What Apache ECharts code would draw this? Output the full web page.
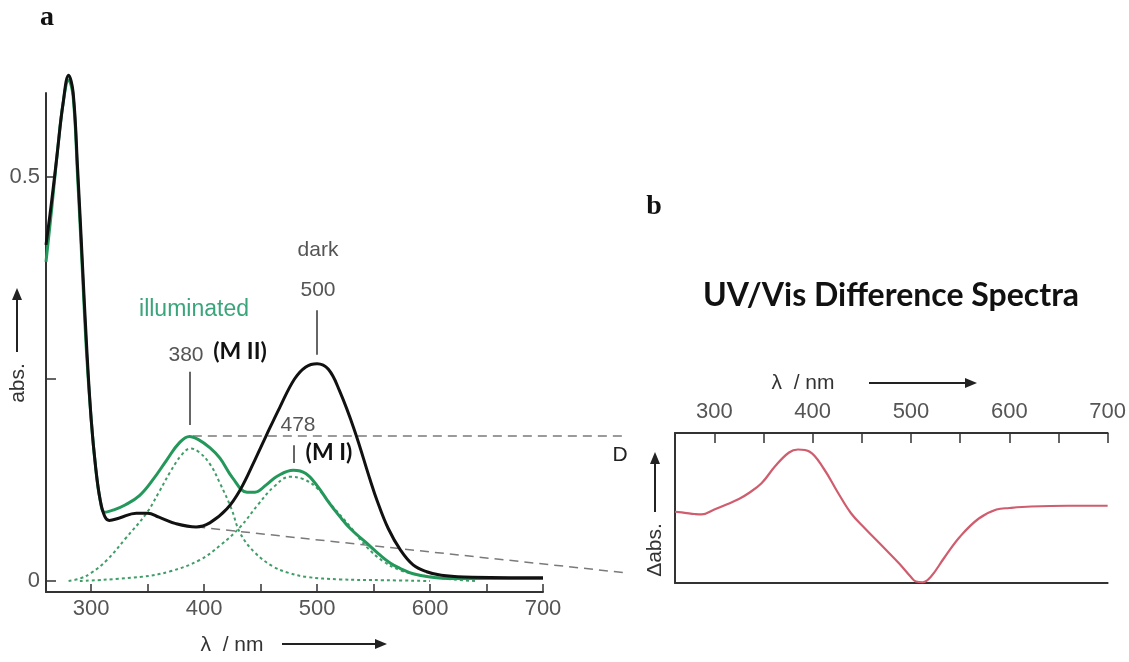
<!DOCTYPE html>
<html>
<head>
<meta charset="utf-8">
<script src="https://cdn.jsdelivr.net/npm/echarts@6/dist/echarts.min.js"></script>
<style>html,body{margin:0;padding:0;background:#fff;}#c{width:1129px;height:662px;}</style>
</head>
<body>
<div id="c"></div>
<script>
// ---------- data (wavelength nm, absorbance) ----------
const darkSpectrum = [
  [260,0.416],[265,0.47],[270,0.53],[275,0.59],[280,0.626],[284,0.605],[288,0.51],[292,0.40],
  [296,0.29],[300,0.20],[304,0.14],[308,0.10],[312,0.08],[316,0.075],[325,0.078],[340,0.084],
  [350,0.084],[360,0.079],[375,0.071],[393,0.067],[405,0.072],[420,0.089],[432,0.113],[445,0.15],
  [455,0.18],[467,0.215],[480,0.25],[490,0.265],[500,0.269],[510,0.262],[520,0.235],[533,0.187],
  [547,0.125],[553,0.100],[563,0.065],[574,0.038],[585,0.02],[597,0.0115],[610,0.007],[630,0.005],[700,0.004]
];
const illuminatedSpectrum = [
  [260,0.395],[265,0.46],[270,0.53],[275,0.59],[280,0.62],[284,0.60],[288,0.50],[292,0.39],
  [296,0.28],[300,0.20],[304,0.14],[308,0.10],[312,0.085],[320,0.088],[330,0.094],[343,0.106],
  [355,0.126],[367,0.150],[378,0.171],[387,0.179],[395,0.175],[405,0.165],[414,0.152],[425,0.128],
  [438,0.110],[445,0.110],[455,0.119],[465,0.130],[479,0.137],[490,0.133],[500,0.118],[510,0.098],
  [520,0.080],[530,0.064],[543,0.048],[555,0.033],[565,0.022],[573,0.016],[585,0.009],[600,0.005],
  [620,0.003],[700,0.003]
];
const componentMII = [
  [280,0.0],[290,0.003],[300,0.010],[314,0.026],[330,0.052],[349,0.084],[360,0.11],[370,0.135],
  [380,0.156],[388,0.164],[395,0.160],[405,0.145],[414,0.121],[424,0.09],[432,0.059],[445,0.035],
  [461,0.018],[475,0.010],[491,0.005],[520,0.002],[560,0.001],[600,0.0]
];
const componentMI = [
  [290,0.0],[343,0.005],[370,0.012],[396,0.026],[415,0.045],[432,0.067],[448,0.095],[462,0.117],
  [476,0.129],[488,0.126],[500,0.115],[514,0.092],[530,0.066],[544,0.042],[558,0.025],[573,0.0136],
  [588,0.008],[603,0.005],[620,0.002],[640,0.0]
];
const connectorTop = [[390,0.1795],[775,0.1795]];
const connectorBottom = [[393,0.067],[775,0.0099]];
const peakMarkers = [
  [[387,0.193],[387,0.259]],
  [[479,0.146],[479,0.168]],
  [[500,0.28],[500,0.335]]
];
const differenceSpectrum = [
  [260,0.475],[270,0.468],[280,0.46],[287,0.457],[300,0.49],[313,0.525],[325,0.56],[334,0.595],
  [348,0.665],[362,0.78],[376,0.87],[385,0.89],[397,0.875],[411,0.765],[425,0.61],[439,0.465],
  [453,0.365],[471,0.245],[488,0.13],[500,0.04],[505,0.01],[512,0.005],[520,0.04],[534,0.17],
  [550,0.31],[569,0.43],[587,0.49],[600,0.5],[622,0.51],[660,0.515],[700,0.515]
];
const xTickValues = [300,350,400,450,500,550,600,650,700];
const xLabelValues = [300,400,500,600,700];
const yTickValues = [0,0.25,0.5];
const yLabelValues = [0,0.5];

// ---------- helpers ----------
const GRAY = '#555';
function txt(x, y, s, opt) {
  opt = opt || {};
  return {
    type: 'text', x: x, y: y, rotation: opt.rotation || 0, z: 50,
    style: {
      text: s, fill: opt.color || GRAY, fontSize: opt.size || 21,
      fontFamily: opt.family || 'Liberation Sans, Arial, sans-serif',
      fontWeight: opt.weight || 'normal', align: 'center', verticalAlign: 'middle'
    }
  };
}
function arrow(x1, y1, x2, y2, color) {
  color = color || '#222';
  const ang = Math.atan2(y2 - y1, x2 - x1);
  const L = 12, W = 5;
  const bx = x2 - L * Math.cos(ang), by = y2 - L * Math.sin(ang);
  const px = -Math.sin(ang) * W, py = Math.cos(ang) * W;
  return [
    { type: 'line', z: 50, shape: { x1: x1, y1: y1, x2: bx, y2: by }, style: { stroke: color, lineWidth: 2 } },
    { type: 'polygon', z: 50, shape: { points: [[x2, y2], [bx + px, by + py], [bx - px, by - py]] }, style: { fill: color } }
  ];
}

const chart = echarts.init(document.getElementById('c'), null, { renderer: 'canvas' });

const axisLineStyle = { color: '#333', width: 2 };
// left plot: 497 px for 440 nm; overlay grid extends the same scale to x = 628 px
const leftPxPerNm = 497 / 440;
const overlayMax = 260 + 582 / leftPxPerNm;

const option = {
  backgroundColor: '#ffffff',
  animation: false,
  grid: [
    { left: 46, top: 93, width: 497, height: 499 },
    { left: 675, top: 433, width: 435, height: 150 },
    { left: 46, top: 93, width: 582, height: 499 }
  ],
  xAxis: [
    {
      gridIndex: 0, type: 'value', min: 260, max: 700,
      axisLine: { show: true, onZero: false, lineStyle: axisLineStyle },
      axisTick: { show: true, inside: true, length: 8, customValues: xTickValues, lineStyle: { color: '#333', width: 1.5 } },
      axisLabel: { show: true, customValues: xLabelValues, fontSize: 22, color: GRAY, margin: 6, fontFamily: 'Liberation Sans, Arial, sans-serif' },
      splitLine: { show: false }
    },
    {
      gridIndex: 1, type: 'value', position: 'top', min: 260, max: 700,
      axisLine: { show: true, onZero: false, lineStyle: axisLineStyle },
      axisTick: { show: true, inside: true, length: 10, customValues: xTickValues, lineStyle: { color: '#333', width: 1.5 } },
      axisLabel: { show: true, customValues: xLabelValues, fontSize: 22, color: GRAY, margin: 10, fontFamily: 'Liberation Sans, Arial, sans-serif' },
      splitLine: { show: false }
    },
    {
      gridIndex: 1, type: 'value', position: 'bottom', min: 260, max: 700,
      axisLine: { show: true, onZero: false, lineStyle: axisLineStyle },
      axisTick: { show: false }, axisLabel: { show: false }, splitLine: { show: false }
    },
    {
      gridIndex: 2, type: 'value', min: 260, max: overlayMax, show: false
    }
  ],
  yAxis: [
    {
      gridIndex: 0, type: 'value', min: -0.0136, max: 0.604,
      axisLine: { show: true, onZero: false, lineStyle: axisLineStyle },
      axisTick: { show: true, inside: true, length: 10, customValues: yTickValues, lineStyle: { color: '#333', width: 1.5 } },
      axisLabel: { show: true, customValues: yLabelValues, fontSize: 22, color: GRAY, margin: 6,
        fontFamily: 'Liberation Sans, Arial, sans-serif', formatter: v => (v === 0 ? '0' : String(v)) },
      splitLine: { show: false }
    },
    {
      gridIndex: 1, type: 'value', min: 0, max: 1,
      axisLine: { show: true, onZero: false, lineStyle: axisLineStyle },
      axisTick: { show: false }, axisLabel: { show: false }, splitLine: { show: false }
    },
    {
      gridIndex: 2, type: 'value', min: -0.0136, max: 0.604, show: false
    }
  ],
  series: [
    {
      name: 'MII component', type: 'line', xAxisIndex: 0, yAxisIndex: 0, data: componentMII,
      smooth: 0.4, showSymbol: false, symbol: 'none', clip: false, z: 2,
      lineStyle: { color: '#3f9d68', width: 2, type: [3, 3] }
    },
    {
      name: 'MI component', type: 'line', xAxisIndex: 0, yAxisIndex: 0, data: componentMI,
      smooth: 0.4, showSymbol: false, symbol: 'none', clip: false, z: 2,
      lineStyle: { color: '#3f9d68', width: 2, type: [3, 3] }
    },
    {
      name: 'connector top', type: 'line', xAxisIndex: 3, yAxisIndex: 2, data: connectorTop,
      showSymbol: false, symbol: 'none', clip: false, z: 1,
      lineStyle: { color: '#7a7a7a', width: 1.5, type: [9, 6] },
      markLine: {
        silent: true, symbol: 'none', label: { show: false },
        lineStyle: { color: '#666', width: 2, type: 'solid' },
        data: peakMarkers.map(p => [{ coord: p[0] }, { coord: p[1] }])
      }
    },
    {
      name: 'connector bottom', type: 'line', xAxisIndex: 3, yAxisIndex: 2, data: connectorBottom,
      showSymbol: false, symbol: 'none', clip: false, z: 1,
      lineStyle: { color: '#7a7a7a', width: 1.5, type: [9, 6] }
    },
    {
      name: 'illuminated', type: 'line', xAxisIndex: 0, yAxisIndex: 0, data: illuminatedSpectrum,
      smooth: 0.4, showSymbol: false, symbol: 'none', clip: false, z: 3,
      lineStyle: { color: '#23985a', width: 3 }
    },
    {
      name: 'dark', type: 'line', xAxisIndex: 0, yAxisIndex: 0, data: darkSpectrum,
      smooth: 0.4, showSymbol: false, symbol: 'none', clip: false, z: 4,
      lineStyle: { color: '#111111', width: 3 }
    },
    {
      name: 'difference', type: 'line', xAxisIndex: 1, yAxisIndex: 1, data: differenceSpectrum,
      smooth: 0.4, showSymbol: false, symbol: 'none', clip: false, z: 3,
      lineStyle: { color: '#cf5d6e', width: 2.2 }
    }
  ],
  graphic: [
    txt(47, 18, 'a', { size: 28, weight: 'bold', color: '#111', family: 'Liberation Serif, Times New Roman, serif' }),
    txt(654, 207, 'b', { size: 28, weight: 'bold', color: '#111', family: 'Liberation Serif, Times New Roman, serif' }),
    txt(318, 250, 'dark', { size: 21 }),
    txt(318, 290, '500', { size: 21 }),
    txt(194, 310, 'illuminated', { size: 23, color: '#3aa57a' }),
    txt(186, 355, '380', { size: 21 }),
    txt(240, 352, '(M II)', { size: 23, weight: 'bold', color: '#111', family: 'Lato, Open Sans, sans-serif' }),
    txt(298, 425, '478', { size: 21 }),
    txt(329, 453, '(M I)', { size: 23, weight: 'bold', color: '#111', family: 'Lato, Open Sans, sans-serif' }),
    txt(891, 296, 'UV/Vis Difference Spectra', { size: 32, weight: 'bold', color: '#111', family: 'Lato, Open Sans, sans-serif' }),
    txt(232, 645, 'λ  / nm', { size: 21, color: '#333' }),
    ...arrow(282, 644, 387, 644),
    txt(18, 383, 'abs.', { size: 21, color: '#333', rotation: Math.PI / 2 }),
    ...arrow(17, 352, 17, 288),
    txt(803, 383, 'λ  / nm', { size: 21, color: '#333' }),
    ...arrow(869, 383, 977, 383),
    txt(620, 455, 'D', { size: 21, color: '#222' }),
    txt(655, 550, 'Δabs.', { size: 21, color: '#333', rotation: Math.PI / 2 }),
    ...arrow(655, 512, 655, 452)
  ]
};
chart.setOption(option);
</script>
</body>
</html>
